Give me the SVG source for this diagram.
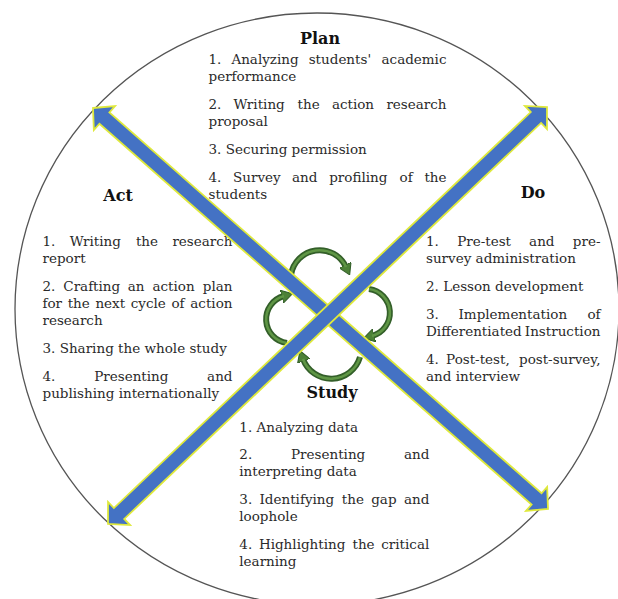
<svg xmlns="http://www.w3.org/2000/svg" width="618" height="599" viewBox="0 0 618 599">
  <style>
    .t { font-family: "DejaVu Serif", "Liberation Serif", serif; font-size: 13.5px; fill: #2a2a2a; }
    .t .r { text-anchor: end; }
    .h { font-family: "DejaVu Serif", "Liberation Serif", serif; font-size: 16px; font-weight: bold; fill: #111; text-anchor: middle; }
    .arrow { fill: #4472c4; stroke: #dfe93c; stroke-width: 1.8; stroke-linejoin: miter; }
    .cyc-o { fill: none; stroke: #335f29; stroke-width: 6; }
    .cyc-i { fill: none; stroke: #5f9645; stroke-width: 2.6; }
  </style>
  <defs>
    <marker id="cycHead" markerUnits="userSpaceOnUse" viewBox="0 0 10 12" markerWidth="11" markerHeight="13" refX="2" refY="6" orient="auto">
      <path d="M0,0 L10,6 L0,12 z" fill="#4c8137" stroke="#335f29" stroke-width="1"/>
    </marker>
  </defs>

  <rect width="618" height="599" fill="#fff"/>

  <!-- outer boundary -->
  <ellipse cx="317" cy="309" rx="302" ry="296" fill="none" stroke="#555" stroke-width="1.3"/>

  <g id="plan">
    <text class="h" x="320" y="44">Plan</text>
    <text class="t" y="64"><tspan x="208.5">1.</tspan><tspan x="231.4">Analyzing</tspan><tspan x="308.7">students'</tspan><tspan class="r" x="446.5">academic</tspan></text>
    <text class="t" x="208.5" y="81">performance</text>
    <text class="t" y="109"><tspan x="208.5">2.</tspan><tspan x="233.6">Writing</tspan><tspan x="297.6">the</tspan><tspan x="331.9">action</tspan><tspan class="r" x="446.5">research</tspan></text>
    <text class="t" x="208.5" y="126">proposal</text>
    <text class="t" x="208.5" y="154">3. Securing permission</text>
    <text class="t" y="182"><tspan x="208.5">4.</tspan><tspan x="233.1">Survey</tspan><tspan x="292">and</tspan><tspan x="329.2">profiling</tspan><tspan x="399.5">of</tspan><tspan class="r" x="446.5">the</tspan></text>
    <text class="t" x="208.5" y="199">students</text>
  </g>

  <g id="act">
    <text class="h" x="118" y="201">Act</text>
    <text class="t" y="246"><tspan x="42.5">1.</tspan><tspan x="69.7">Writing</tspan><tspan x="135.9">the</tspan><tspan class="r" x="232.5">research</tspan></text>
    <text class="t" x="42.5" y="263">report</text>
    <text class="t" y="291"><tspan x="42.5">2.</tspan><tspan x="63.3">Crafting</tspan><tspan x="127.8">an</tspan><tspan x="152.5">action</tspan><tspan class="r" x="232.5">plan</tspan></text>
    <text class="t" y="308"><tspan x="42.5">for</tspan><tspan x="67.7">the</tspan><tspan x="95.4">next</tspan><tspan x="130.7">cycle</tspan><tspan x="171.4">of</tspan><tspan class="r" x="232.5">action</tspan></text>
    <text class="t" x="42.5" y="325">research</text>
    <text class="t" x="42.5" y="353">3. Sharing the whole study</text>
    <text class="t" y="381"><tspan x="42.5">4.</tspan><tspan x="94.2">Presenting</tspan><tspan class="r" x="232.5">and</tspan></text>
    <text class="t" x="42.5" y="398">publishing internationally</text>
  </g>

  <g id="do">
    <text class="h" x="533" y="198">Do</text>
    <text class="t" y="246"><tspan x="426">1.</tspan><tspan x="457.2">Pre-test</tspan><tspan x="529.1">and</tspan><tspan class="r" x="600.5">pre-</tspan></text>
    <text class="t" x="426" y="263">survey administration</text>
    <text class="t" x="426" y="291">2. Lesson development</text>
    <text class="t" y="319"><tspan x="426">3.</tspan><tspan x="458.5">Implementation</tspan><tspan class="r" x="600.5">of</tspan></text>
    <text class="t" y="336"><tspan x="426">Differentiated</tspan><tspan class="r" x="600.5">Instruction</tspan></text>
    <text class="t" y="364"><tspan x="426">4.</tspan><tspan x="446.1">Post-test,</tspan><tspan class="r" x="600.5">post-survey,</tspan></text>
    <text class="t" x="426" y="381">and interview</text>
  </g>

  <g id="study">
    <text class="h" x="332" y="398">Study</text>
    <text class="t" x="239.3" y="432">1. Analyzing data</text>
    <text class="t" y="459"><tspan x="239.3">2.</tspan><tspan x="291">Presenting</tspan><tspan class="r" x="429.3">and</tspan></text>
    <text class="t" x="239.3" y="476">interpreting data</text>
    <text class="t" y="504"><tspan x="239.3">3.</tspan><tspan x="259.5">Identifying</tspan><tspan x="341.8">the</tspan><tspan x="371.2">gap</tspan><tspan class="r" x="429.3">and</tspan></text>
    <text class="t" x="239.3" y="521">loophole</text>
    <text class="t" y="549"><tspan x="239.3">4.</tspan><tspan x="258.9">Highlighting</tspan><tspan x="352.5">the</tspan><tspan class="r" x="429.3">critical</tspan></text>
    <text class="t" x="239.3" y="566">learning</text>
  </g>

  <!-- central cycle of curved arrows -->
  <g id="cycle">
    <path class="cyc-o" d="M291 275 A29 29 0 0 1 346 267" marker-end="url(#cycHead)"/>
    <path class="cyc-i" d="M291 275 A29 29 0 0 1 346 267"/>
    <path class="cyc-o" d="M369 289 A24 24 0 0 1 372 336" marker-end="url(#cycHead)"/>
    <path class="cyc-i" d="M369 289 A24 24 0 0 1 372 336"/>
    <path class="cyc-o" d="M360 357 A30 30 0 0 1 303 359" marker-end="url(#cycHead)"/>
    <path class="cyc-i" d="M360 357 A30 30 0 0 1 303 359"/>
    <path class="cyc-o" d="M287 343 A24 24 0 0 1 284 296" marker-end="url(#cycHead)"/>
    <path class="cyc-i" d="M287 343 A24 24 0 0 1 284 296"/>
  </g>

  <!-- double-headed diagonal arrows -->
  <g id="connectors">
    <polygon class="arrow" transform="translate(320.5 308.5) rotate(41.39)"
      points="-303.25,0 -288,-16 -288,-7.5 288,-7.5 288,-16 303.25,0 288,16 288,7.5 -288,7.5 -288,16"/>
    <polygon class="arrow" transform="translate(327.5 315.5) rotate(-43.53)"
      points="-302.75,0 -287.5,-16 -287.5,-7.5 287.5,-7.5 287.5,-16 302.75,0 287.5,16 287.5,7.5 -287.5,7.5 -287.5,16"/>
  </g>
</svg>
